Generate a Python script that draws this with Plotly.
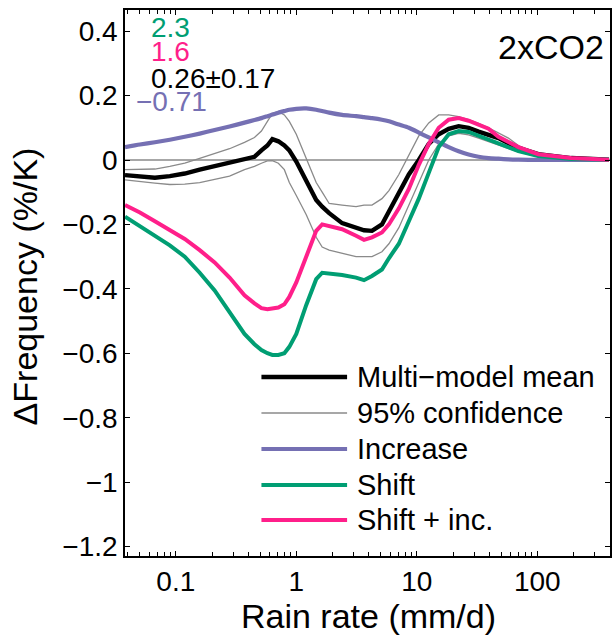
import plotly.graph_objects as go
import math

# ---- data ----
rain_rate = [0.0379, 0.0504, 0.0671, 0.0892, 0.1187, 0.1579, 0.2101, 0.2794, 0.3717, 0.4496,
             0.5137, 0.5758, 0.6332, 0.7099, 0.7960, 0.8751, 1.0, 1.21, 1.463, 1.640,
             1.874, 2.400, 3.133, 3.648, 4.247, 5.137, 5.870, 7.099, 8.587, 10.39,
             12.57, 15.20, 18.39, 22.24, 26.90, 32.54, 39.36, 47.61, 57.58, 69.66,
             101.9, 191.0, 393.6]

mean = [-0.047, -0.052, -0.055, -0.050, -0.042, -0.030, -0.020, -0.008, 0.003, 0.010,
        0.030, 0.045, 0.065, 0.058, 0.045, 0.030, -0.005, -0.062, -0.124, -0.145,
        -0.165, -0.196, -0.212, -0.218, -0.220, -0.200, -0.160, -0.100, -0.045, 0.000,
        0.050, 0.080, 0.097, 0.105, 0.100, 0.088, 0.077, 0.068, 0.052, 0.038,
        0.018, 0.006, 0.001]

ci_high = [-0.030, -0.030, -0.028, -0.020, -0.010, 0.005, 0.020, 0.035, 0.055, 0.070,
           0.090, 0.120, 0.145, 0.150, 0.140, 0.120, 0.080, 0.005, -0.070, -0.100,
           -0.135, -0.140, -0.145, -0.140, -0.140, -0.120, -0.095, -0.045, 0.015, 0.075,
           0.115, 0.140, 0.140, 0.135, 0.125, 0.114, 0.100, 0.084, 0.068, 0.045,
           0.018, 0.005, 0.002]

ci_low = [-0.062, -0.068, -0.072, -0.076, -0.075, -0.070, -0.060, -0.050, -0.030, -0.020,
          -0.010, -0.003, -0.002, -0.010, -0.030, -0.070, -0.110, -0.170, -0.240, -0.270,
          -0.280, -0.290, -0.300, -0.300, -0.300, -0.285, -0.260, -0.210, -0.140, -0.070,
          0.000, 0.050, 0.075, 0.083, 0.078, 0.068, 0.057, 0.045, 0.035, 0.025,
          0.010, 0.004, 0.001]

increase = [0.040, 0.048, 0.055, 0.063, 0.072, 0.082, 0.093, 0.104, 0.116, 0.124,
            0.130, 0.136, 0.141, 0.147, 0.152, 0.156, 0.159, 0.160, 0.156, 0.152,
            0.147, 0.140, 0.136, 0.133, 0.130, 0.125, 0.120, 0.110, 0.100, 0.085,
            0.070, 0.055, 0.040, 0.027, 0.017, 0.010, 0.006, 0.004, 0.002, 0.001,
            0.0005, 0.0, 0.0]

shift = [-0.176, -0.205, -0.235, -0.265, -0.300, -0.350, -0.405, -0.470, -0.540, -0.572,
         -0.590, -0.600, -0.605, -0.605, -0.600, -0.580, -0.540, -0.450, -0.370, -0.350,
         -0.352, -0.357, -0.365, -0.373, -0.360, -0.340, -0.305, -0.260, -0.190, -0.120,
         -0.040, 0.040, 0.080, 0.090, 0.087, 0.075, 0.064, 0.052, 0.040, 0.028,
         0.012, 0.003, 0.001]

shift_inc = [-0.140, -0.163, -0.190, -0.217, -0.245, -0.280, -0.318, -0.365, -0.420, -0.445,
             -0.460, -0.463, -0.460, -0.458, -0.448, -0.425, -0.380, -0.300, -0.220, -0.200,
             -0.206, -0.215, -0.235, -0.248, -0.240, -0.225, -0.200, -0.150, -0.090, -0.015,
             0.050, 0.100, 0.125, 0.130, 0.122, 0.110, 0.097, 0.072, 0.055, 0.040,
             0.018, 0.006, 0.001]

x_tickvals = [0.1, 1, 10, 100]
x_ticktext = ["0.1", "1", "10", "100"]
y_tickvals = [-1.2, -1.0, -0.8, -0.6, -0.4, -0.2, 0.0, 0.2, 0.4]
y_ticktext = ["\u22121.2", "\u22121", "\u22120.8", "\u22120.6", "\u22120.4", "\u22120.2", "0", "0.2", "0.4"]
minor_vals = [m * 10 ** e for e in range(-2, 3) for m in range(2, 10)]

legend_names = ["Multi\u2212model mean", "95% confidence", "Increase", "Shift", "Shift + inc."]
stats_text = ["2.3", "1.6", "0.26\u00b10.17", "\u22120.71"]

# ---- style ----
BLACK = "#000000"
GRAY = "#8a8a8a"
PURPLE = "#7570b3"
GREEN = "#009e73"
PINK = "#ff1f8a"
FONT = "Liberation Sans, Arial, sans-serif"

W, H = 612, 637
L, R, T, B = 125, 612, 10, 556


def px_x(p):
    return (p - L) / (R - L)


def px_y(p):
    return (B - p) / (B - T)


fig = go.Figure()

fig.add_trace(go.Scatter(x=rain_rate, y=ci_high, mode="lines", line=dict(color=GRAY, width=1.3), showlegend=False))
fig.add_trace(go.Scatter(x=rain_rate, y=ci_low, mode="lines", line=dict(color=GRAY, width=1.3), showlegend=False))
fig.add_trace(go.Scatter(x=rain_rate, y=mean, mode="lines", line=dict(color=BLACK, width=4.4), showlegend=False))
fig.add_trace(go.Scatter(x=rain_rate, y=increase, mode="lines", line=dict(color=PURPLE, width=4.2, shape="spline", smoothing=0.6), showlegend=False))
fig.add_trace(go.Scatter(x=rain_rate, y=shift, mode="lines", line=dict(color=GREEN, width=4.0), showlegend=False))
fig.add_trace(go.Scatter(x=rain_rate, y=shift_inc, mode="lines", line=dict(color=PINK, width=4.0), showlegend=False))

shapes = [dict(type="line", xref="paper", yref="y", x0=0, x1=1, y0=0, y1=0,
               line=dict(color=GRAY, width=1.5), layer="below")]

annotations = []
leg_colors = [BLACK, GRAY, PURPLE, GREEN, PINK]
leg_widths = [4.4, 1.3, 4.2, 4.0, 4.0]
leg_y = [377, 413, 449, 485, 520]
for name, c, w, yy in zip(legend_names, leg_colors, leg_widths, leg_y):
    shapes.append(dict(type="line", xref="paper", yref="paper", x0=px_x(262), x1=px_x(348),
                       y0=px_y(yy), y1=px_y(yy), line=dict(color=c, width=w)))
    annotations.append(dict(text=name, xref="paper", yref="paper", x=px_x(356), y=px_y(yy),
                            xanchor="left", yanchor="middle", showarrow=False,
                            font=dict(family=FONT, size=29, color="black")))

stat_colors = [GREEN, PINK, BLACK, PURPLE]
stat_x = [149, 149, 149, 134]
stat_y = [27, 52, 78, 102]
for t, c, xx, yy in zip(stats_text, stat_colors, stat_x, stat_y):
    annotations.append(dict(text=t, xref="paper", yref="paper", x=px_x(xx), y=px_y(yy),
                            xanchor="left", yanchor="middle", showarrow=False,
                            font=dict(family=FONT, size=28, color=c)))

annotations.append(dict(text="2xCO2", xref="paper", yref="paper", x=px_x(608), y=px_y(47),
                        xanchor="right", yanchor="middle", showarrow=False,
                        font=dict(family=FONT, size=34, color="black")))
annotations.append(dict(text="Rain rate (mm/d)", xref="paper", yref="paper", x=px_x(370), y=px_y(616),
                        xanchor="center", yanchor="middle", showarrow=False,
                        font=dict(family=FONT, size=34, color="black")))
annotations.append(dict(text="\u0394Frequency (%/K)", xref="paper", yref="paper", x=px_x(25), y=px_y(286),
                        xanchor="center", yanchor="middle", textangle=-90, showarrow=False,
                        font=dict(family=FONT, size=34, color="black")))

fig.update_layout(
    width=W, height=H,
    margin=dict(l=L, r=W - R, t=T, b=H - B, pad=0),
    paper_bgcolor="white", plot_bgcolor="white",
    showlegend=False,
    shapes=shapes, annotations=annotations,
    font=dict(family=FONT, size=28, color="black"),
)
fig.update_xaxes(type="log", range=[math.log10(0.0379), math.log10(401)],
                 tickmode="array", tickvals=x_tickvals, ticktext=x_ticktext,
                 ticks="inside", ticklen=5, tickwidth=1.2, tickcolor="black",
                 showline=True, linecolor="black", linewidth=1.5, mirror="ticks",
                 showgrid=False, zeroline=False,
                 minor=dict(tickmode="array", tickvals=minor_vals, ticks="inside", ticklen=4,
                            tickwidth=1.2, tickcolor="black", showgrid=False),
                 tickfont=dict(family=FONT, size=28, color="black"))
fig.update_yaxes(range=[-1.2294, 0.4657],
                 tickmode="array", tickvals=y_tickvals, ticktext=y_ticktext,
                 ticks="inside", ticklen=5, tickwidth=1.2, tickcolor="black",
                 showline=True, linecolor="black", linewidth=1.5, mirror="ticks",
                 showgrid=False, zeroline=False,
                 tickfont=dict(family=FONT, size=28, color="black"))

fig.write_html("out.html")
